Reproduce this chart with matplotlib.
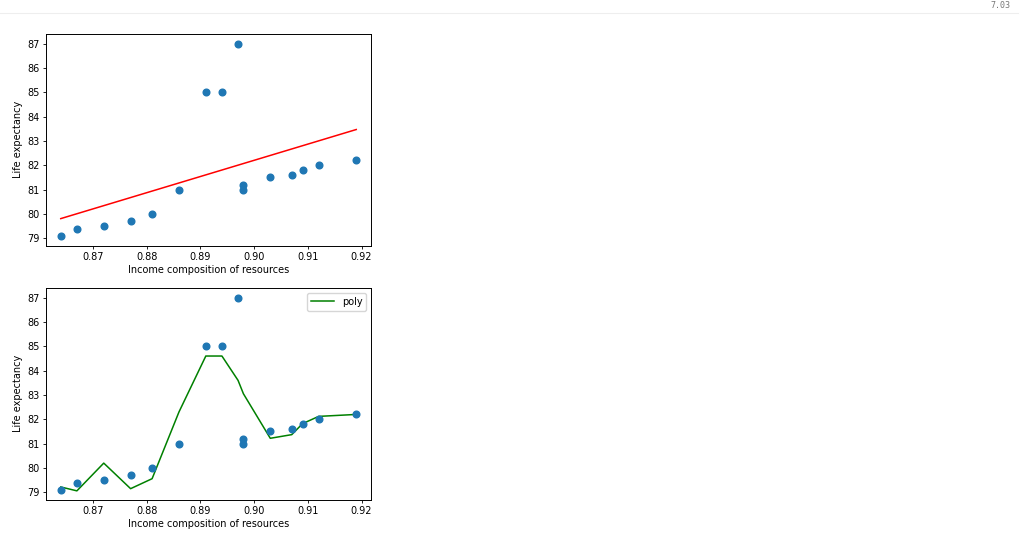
import matplotlib
matplotlib.use("Agg")
import matplotlib.pyplot as plt
from matplotlib.lines import Line2D

# data
income = [0.864, 0.867, 0.872, 0.877, 0.881, 0.886, 0.891, 0.894, 0.897,
          0.898, 0.898, 0.903, 0.907, 0.909, 0.912, 0.919]
life = [79.1, 79.4, 79.5, 79.7, 80.0, 81.0, 85.0, 85.0, 87.0,
        81.2, 81.0, 81.5, 81.6, 81.8, 82.0, 82.2]

# linear fit endpoints
lin_x = [0.864, 0.919]
lin_y = [79.81, 83.47]

# poly model predictions
poly_x = [0.864, 0.867, 0.872, 0.877, 0.881, 0.886, 0.891, 0.894, 0.897,
          0.898, 0.903, 0.907, 0.909, 0.912, 0.919]
poly_y = [79.22, 79.06, 80.2, 79.15, 79.56, 82.3, 84.6, 84.6, 83.6,
          83.05, 81.22, 81.37, 81.82, 82.12, 82.2]

yticks = [79, 80, 81, 82, 83, 84, 85, 86, 87]
xticks = [0.87, 0.88, 0.89, 0.90, 0.91, 0.92]
xticklabels = ["0.87", "0.88", "0.89", "0.90", "0.91", "0.92"]

W, H = 1024, 542
fig = plt.figure(figsize=(W / 100, H / 100), dpi=100)
FS = 7.0

def px_axes(l, t, r, b):
    return [l / W, 1 - b / H, (r - l) / W, (b - t) / H]

ax1 = fig.add_axes(px_axes(46, 34, 371, 245.5))
ax2 = fig.add_axes(px_axes(46, 288, 371, 499.5))

for ax in (ax1, ax2):
    ax.scatter(income, life, s=23, color="#1f77b4", zorder=3)
    ax.set_yticks(yticks)
    ax.set_xticks(xticks)
    ax.set_xticklabels(xticklabels)
    ax.tick_params(labelsize=FS, width=0.6, length=2.5, pad=2)
    ax.set_xlabel("Income composition of resources", fontsize=FS, labelpad=2)
    ax.set_ylabel("Life expectancy", fontsize=FS, labelpad=3)
    for s in ax.spines.values():
        s.set_linewidth(0.7)

ax1.plot(lin_x, lin_y, color="red", linewidth=1.1, zorder=2)
ax2.plot(poly_x, poly_y, color="green", linewidth=1.1, zorder=2, label="poly")
ax2.legend(loc="upper right", fontsize=FS, handlelength=2.4, borderpad=0.4,
           frameon=True, fancybox=True, framealpha=0.8)

for ax in (ax1, ax2):
    ax.set_xlim(0.86125, 0.92175)
    ax.set_ylim(78.705, 87.395)

# notebook header remnants
fig.add_artist(Line2D([0, 1018 / W], [1 - 12.5 / H, 1 - 12.5 / H],
                      color="#eeeeee", linewidth=0.8))
fig.text(1010 / W, 1 - 1 / H, "7.03", fontsize=6, color="#777777",
         ha="right", va="top", family="DejaVu Sans Mono")

fig.savefig("out.png", dpi=100)
